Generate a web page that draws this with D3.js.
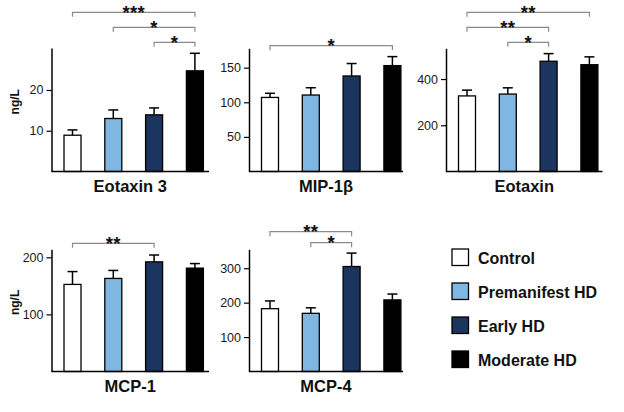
<!DOCTYPE html>
<html><head><meta charset="utf-8">
<script src="https://cdnjs.cloudflare.com/ajax/libs/d3/7.8.5/d3.min.js"></script>
<style>body{margin:0;background:#fff}svg{display:block}text{font-family:"Liberation Sans",Arial,sans-serif}</style>
</head><body>
<script>
// ---- data ----
const groups = ["Control", "Premanifest HD", "Early HD", "Moderate HD"];
const groupColors = ["#ffffff", "#7fb6e2", "#1b355e", "#000000"];
const panelNames = ["Eotaxin 3", "MIP-1β", "Eotaxin", "MCP-1", "MCP-4"];
const eotaxin3Mean = [8.9, 13.0, 13.9, 24.7];
const eotaxin3Err = [10.2, 15.1, 15.6, 29.0];
const mip1bMean = [107, 110.5, 138, 153];
const mip1bErr = [113, 121, 156, 166];
const eotaxinMean = [327, 335, 477, 462];
const eotaxinErr = [352, 362, 510, 496];
const mcp1Mean = [152.5, 163, 192, 181];
const mcp1Err = [175, 177, 204, 189];
const mcp4Mean = [182.5, 169, 305, 208];
const mcp4Err = [205, 185, 344, 225];
const eotaxin3Ticks = [10, 20];
const mip1bTicks = [50, 100, 150];
const eotaxinTicks = [200, 400];
const mcp1Ticks = [100, 200];
const mcp4Ticks = [100, 200, 300];
const yMax = [30.3, 178, 533, 214, 355];
// significance brackets: [from group index, to group index, label]
const eotaxin3Sig = [[0, 3, "***"], [1, 3, "*"], [2, 3, "*"]];
const mip1bSig = [[0, 3, "*"]];
const eotaxinSig = [[0, 3, "**"], [0, 2, "**"], [1, 2, "*"]];
const mcp1Sig = [[0, 2, "**"]];
const mcp4Sig = [[0, 2, "**"], [1, 2, "*"]];

const means = [eotaxin3Mean, mip1bMean, eotaxinMean, mcp1Mean, mcp4Mean];
const errs = [eotaxin3Err, mip1bErr, eotaxinErr, mcp1Err, mcp4Err];
const ticks = [eotaxin3Ticks, mip1bTicks, eotaxinTicks, mcp1Ticks, mcp4Ticks];
const sigs = [eotaxin3Sig, mip1bSig, eotaxinSig, mcp1Sig, mcp4Sig];

// ---- layout ----
const layout = [
  {x0: 51.5, x1: 209, top: 48, bottom: 171.5, sigY: [12.3, 27.3, 42.3], ylab: true},
  {x0: 249, x1: 403, top: 48.3, bottom: 171.5, sigY: [45.7]},
  {x0: 446, x1: 602.5, top: 48.3, bottom: 171.5, sigY: [12.3, 27.3, 42.3]},
  {x0: 51.5, x1: 209, top: 249.3, bottom: 371.5, sigY: [243.3], ylab: true},
  {x0: 249, x1: 403, top: 249.3, bottom: 371.5, sigY: [231.7, 242.7]}
];

const svg = d3.select("body").append("svg").attr("width", 624).attr("height", 412);

layout.forEach((L, p) => {
  const g = svg.append("g");
  const x = d3.scalePoint().domain(groups).range([L.x0 + 21, L.x0 + 21 + 3 * 40.8]);
  const y = d3.scaleLinear().domain([0, yMax[p]]).range([L.bottom, L.top]);
  const bw = 17;
  const data = groups.map((gname, i) => ({g: gname, m: means[p][i], e: errs[p][i], c: groupColors[i]}));

  // error bars
  data.forEach(d => {
    g.append("line").attr("x1", x(d.g)).attr("x2", x(d.g)).attr("y1", y(d.m)).attr("y2", y(d.e))
      .attr("stroke", "#000").attr("stroke-width", 1.5);
    g.append("line").attr("x1", x(d.g) - 5).attr("x2", x(d.g) + 5).attr("y1", y(d.e)).attr("y2", y(d.e))
      .attr("stroke", "#000").attr("stroke-width", 1.5);
  });
  // bars
  g.selectAll("rect.bar").data(data).enter().append("rect")
    .attr("x", d => x(d.g) - bw / 2).attr("width", bw)
    .attr("y", d => y(d.m)).attr("height", d => y(0) - y(d.m))
    .attr("fill", d => d.c).attr("stroke", "#000").attr("stroke-width", 1.3);

  // y axis
  const ya = g.append("g").attr("transform", `translate(${L.x0},0)`)
    .call(d3.axisLeft(y).tickValues(ticks[p]).tickSize(5).tickSizeOuter(0).tickPadding(3));
  ya.select(".domain").attr("stroke", "#000").attr("stroke-width", 1.5);
  ya.selectAll(".tick line").attr("stroke", "#000").attr("stroke-width", 1.2);
  ya.selectAll(".tick text").attr("font-size", 12.5).attr("fill", "#1a1a1a")
    .attr("font-family", "'Liberation Sans',Arial,sans-serif");
  // x axis line
  g.append("line").attr("x1", L.x0).attr("x2", L.x1).attr("y1", L.bottom).attr("y2", L.bottom)
    .attr("stroke", "#000").attr("stroke-width", 1.5);

  // title
  g.append("text").attr("x", (L.x0 + L.x1) / 2).attr("y", L.bottom + 20)
    .attr("text-anchor", "middle").attr("font-size", 16.5).attr("font-weight", "bold")
    .attr("fill", "#111").text(panelNames[p]);

  if (L.ylab) {
    g.append("text").attr("transform", `translate(19,${(L.top + L.bottom) / 2 - 8}) rotate(-90)`)
      .attr("text-anchor", "middle").attr("font-size", 12).attr("font-weight", "bold")
      .attr("fill", "#111").text("ng/L");
  }

  // significance
  sigs[p].forEach((s, k) => {
    const ly = L.sigY[k];
    const xa = x(groups[s[0]]), xb = x(groups[s[1]]);
    g.append("path").attr("d", `M${xa},${ly + 4.5}V${ly}H${xb}V${ly + 4.5}`)
      .attr("fill", "none").attr("stroke", "#8a8a8a").attr("stroke-width", 1.2);
    g.append("text").attr("x", (xa + xb) / 2).attr("y", ly + 6.5)
      .attr("text-anchor", "middle").attr("font-size", 18.5).attr("font-weight", "bold")
      .attr("letter-spacing", "0.3px").attr("fill", "#111").text(s[2]);
  });
});

// legend
const leg = svg.append("g");
groups.forEach((gname, i) => {
  const yy = 249 + i * 34;
  leg.append("rect").attr("x", 452).attr("y", yy).attr("width", 16.5).attr("height", 16.5)
    .attr("fill", groupColors[i]).attr("stroke", "#000").attr("stroke-width", 1.3);
  leg.append("text").attr("x", 478).attr("y", yy + 15).attr("font-size", 16).attr("font-weight", "bold")
    .attr("fill", "#111").text(gname);
});
</script>
</body></html>
